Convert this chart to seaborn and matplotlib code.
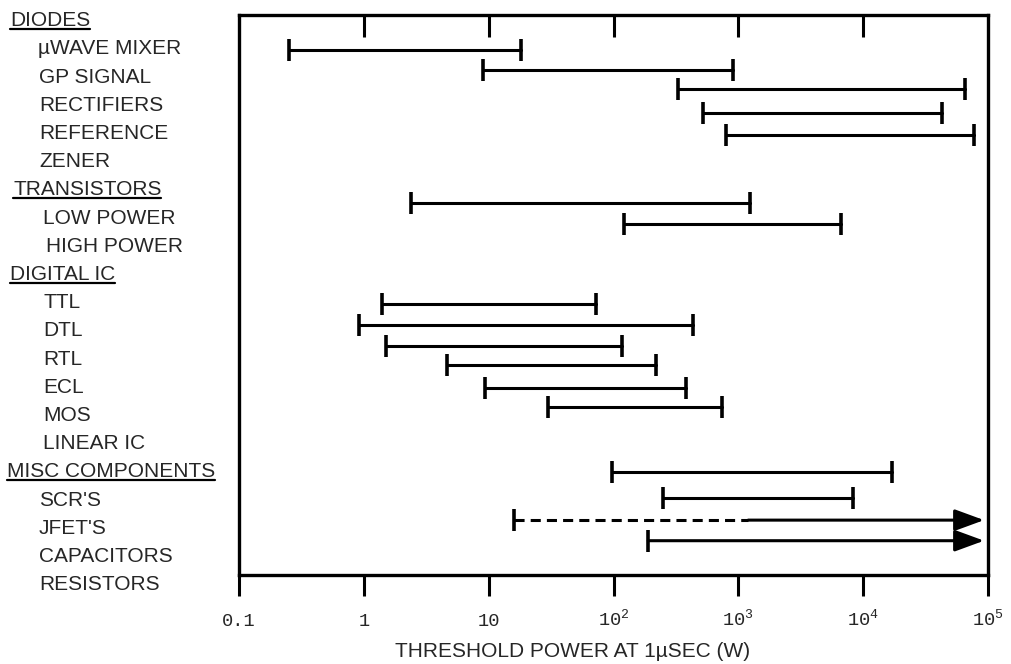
import pandas as pd
import matplotlib.pyplot as plt
import seaborn as sns
from matplotlib.ticker import NullLocator
from matplotlib.transforms import blended_transform_factory
from matplotlib.lines import Line2D

# Labels down the left side, top to bottom (group headers get underlined)
row_labels = ["DIODES", "\u00b5WAVE MIXER", "GP SIGNAL", "RECTIFIERS", "REFERENCE", "ZENER",
              "TRANSISTORS", "LOW POWER", "HIGH POWER",
              "DIGITAL IC", "TTL", "DTL", "RTL", "ECL", "MOS", "LINEAR IC",
              "MISC COMPONENTS", "SCR'S", "JFET'S", "CAPACITORS", "RESISTORS"]
header_labels = ["DIODES", "TRANSISTORS", "DIGITAL IC", "MISC COMPONENTS"]
# left edge of each label in pixels (sub-items are indented)
label_indent = [10, 38, 39, 39, 39, 39, 13, 43, 46, 10, 43, 43, 43, 43, 43, 43, 7, 39, 39, 39, 39]

# Threshold power ranges (W)
bar_items = ["\u00b5WAVE MIXER", "GP SIGNAL", "RECTIFIERS", "REFERENCE", "ZENER",
             "LOW POWER", "HIGH POWER",
             "TTL", "DTL", "RTL", "ECL", "MOS", "LINEAR IC",
             "SCR'S", "JFET'S", "CAPACITORS", "RESISTORS"]
bar_low = [0.25, 9, 330, 520, 800, 2.4, 122, 1.4, 0.92, 1.5, 4.6, 9.4, 30, 97, 250, 16, 190]
bar_high = [18, 900, 65000, 43000, 77000, 1250, 6700, 72, 430, 116, 220, 380, 740,
            17000, 8300, 93000, 93000]
# bar position in label-row units (the bars sit tighter than the labels in the original)
bar_row = [1.04, 1.75, 2.42, 3.27, 4.05, 6.45, 7.22, 10.05, 10.79, 11.54, 12.21, 13.01, 13.69,
           15.99, 16.93, 17.71, 18.44]
# open-ended ranges (arrow off the scale) and the dashed part of CAPACITORS
arrow_items = ["CAPACITORS", "RESISTORS"]
dashed_until = {"CAPACITORS": 1200}

tick_values = [0.1, 1, 10, 100, 1000, 1e4, 1e5]
tick_labels = ["0.1", "1", "10", r"$\mathregular{10^{2}}$", r"$\mathregular{10^{3}}$",
               r"$\mathregular{10^{4}}$", r"$\mathregular{10^{5}}$"]

sns.set_style("ticks")
plt.rcParams["font.family"] = ["Liberation Sans", "DejaVu Sans"]

fig = plt.figure(figsize=(10.11, 6.64), dpi=100)
ax = fig.add_axes([239 / 1011, 1 - 575 / 664, (988 - 239) / 1011, (575 - 15) / 664])
ax.set_xscale("log")

bars = pd.DataFrame({"item": bar_items, "low": bar_low, "high": bar_high, "row": bar_row})

# line segments in long format, one unit per bar
seg_rows = []
for r in bars.itertuples():
    if r.item in arrow_items:
        if r.item in dashed_until:
            seg_rows.append((r.item, r.low, r.row, "dashed"))
            seg_rows.append((r.item, dashed_until[r.item], r.row, "dashed"))
    else:
        seg_rows.append((r.item, r.low, r.row, "solid"))
        seg_rows.append((r.item, r.high, r.row, "solid"))
seg = pd.DataFrame(seg_rows, columns=["item", "power", "row", "kind"])

sns.lineplot(data=seg, x="power", y="row", units="item", style="kind",
             dashes={"solid": "", "dashed": (3.3, 2.0)}, estimator=None, sort=False,
             color="black", linewidth=2.2, legend=False, ax=ax)

# end caps
caps = pd.concat([
    bars[["low", "row"]].rename(columns={"low": "power"}),
    bars.loc[~bars["item"].isin(arrow_items), ["high", "row"]].rename(columns={"high": "power"}),
])
sns.scatterplot(data=caps, x="power", y="row", marker="|", s=230, linewidth=2.6,
                color="black", edgecolor="black", legend=False, ax=ax)

# arrows for the open-ended ranges
for r in bars[bars["item"].isin(arrow_items)].itertuples():
    start = dashed_until.get(r.item, r.low)
    ax.annotate("", xy=(r.high, r.row), xytext=(start, r.row),
                arrowprops=dict(arrowstyle="-|>,head_length=0.9,head_width=0.33",
                                mutation_scale=20, lw=2.2, color="black",
                                shrinkA=0, shrinkB=0))

ax.set_xlim(0.1, 1e5)
ax.set_ylim(19.656, -0.202)
ax.set_yticks([])
ax.set_ylabel("")
ax.set_xticks(tick_values, tick_labels)
ax.xaxis.set_minor_locator(NullLocator())
ax.tick_params(axis="x", bottom=True, direction="out", length=15, width=2.2,
               pad=21.6, labelsize=13.5, color="black")
for lbl in ax.get_xticklabels():
    lbl.set_fontfamily(["Liberation Mono", "DejaVu Sans Mono"])
    lbl.set_va("baseline")
for s in ax.spines.values():
    s.set_linewidth(2.4)
    s.set_color("black")

# inward ticks along the top edge
top = ax.secondary_xaxis("top")
top.set_xticks(tick_values[1:-1])
top.set_xticklabels([])
top.xaxis.set_minor_locator(NullLocator())
top.tick_params(direction="in", length=16, width=2.2, color="black")
top.spines["top"].set_visible(False)

ax.set_xlabel("THRESHOLD POWER AT 1\u00b5SEC (W)", fontsize=15)
ax.xaxis.set_label_coords(0.446, -0.12)

# row labels to the left of the plot
trans = blended_transform_factory(fig.transFigure, ax.transData)
texts = {}
for i, (name, indent) in enumerate(zip(row_labels, label_indent)):
    texts[name] = ax.text(indent / 1011, i, name, transform=trans, ha="left", va="center",
                          fontsize=15, clip_on=False)

# underline the group headers
fig.canvas.draw()
inv = fig.transFigure.inverted()
for name in header_labels:
    bb = texts[name].get_window_extent()
    (x0, y0), (x1, _) = inv.transform([(bb.x0, bb.y0 + 1), (bb.x1, bb.y0 + 1)])
    fig.add_artist(Line2D([x0, x1], [y0, y0], color="black", linewidth=1.6))

fig.savefig("out.png", dpi=100)
